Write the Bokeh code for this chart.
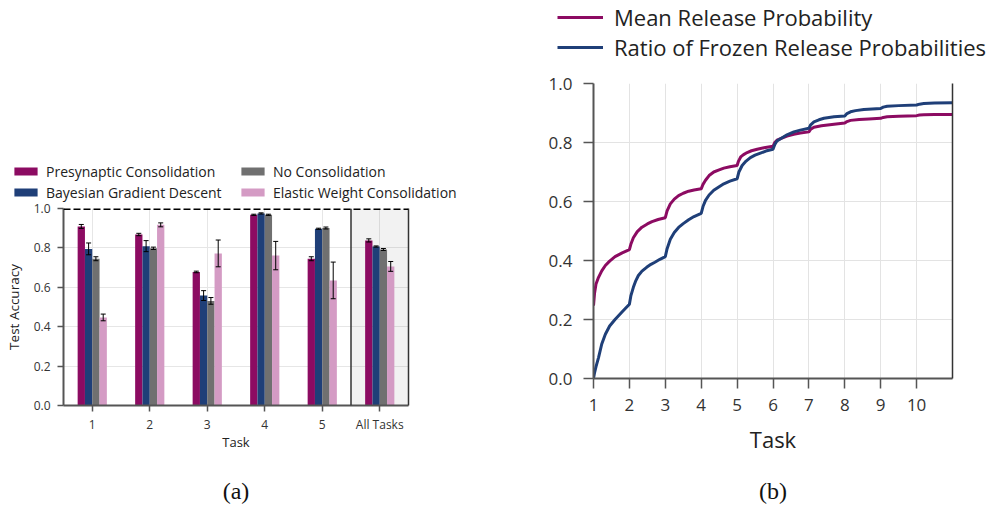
from bokeh.plotting import figure
from bokeh.models import (ColumnDataSource, Whisker, TeeHead, Span, BoxAnnotation,
                          Legend, LegendItem, LinearAxis, FixedTicker,
                          PrintfTickFormatter)
from bokeh.layouts import row, column
from bokeh.embed import file_html
from bokeh.resources import INLINE

FONT = "Open Sans"
SERIF = "Liberation Serif"
NAN = float("nan")

# ---------------- data (a) ----------------
tasks = ["1", "2", "3", "4", "5", "All Tasks"]
series_names = ["Presynaptic Consolidation", "Bayesian Gradient Descent",
                "No Consolidation", "Elastic Weight Consolidation"]
presyn = [0.909, 0.868, 0.678, 0.968, 0.745, 0.838]
presyn_err = [0.010, 0.006, 0.004, 0.003, 0.010, 0.008]
bgd = [0.795, 0.809, 0.558, 0.975, 0.897, 0.807]
bgd_err = [0.030, 0.028, 0.025, 0.003, 0.003, 0.003]
nocons = [0.745, 0.798, 0.531, 0.968, 0.901, 0.792]
nocons_err = [0.010, 0.006, 0.017, 0.003, 0.005, 0.005]
ewc = [0.447, 0.917, 0.772, 0.761, 0.635, 0.706]
ewc_err = [0.017, 0.010, 0.068, 0.072, 0.093, 0.025]
y_ticks_a = [0.0, 0.2, 0.4, 0.6, 0.8, 1.0]

# ---------------- data (b) ----------------
line_names = ["Mean Release Probability", "Ratio of Frozen Release Probabilities"]
mean_x = [1.0, 1.03, 1.07, 1.14, 1.23, 1.33, 1.45, 1.6, 1.8, 2.0,
          2.04, 2.11, 2.22, 2.35, 2.5, 2.63, 2.8, 3.0,
          3.05, 3.14, 3.25, 3.37, 3.5, 3.65, 3.8, 4.0,
          4.05, 4.12, 4.22, 4.35, 4.5, 4.63, 4.8, 5.0,
          5.04, 5.1, 5.18, 5.28, 5.4, 5.56, 5.75, 6.0,
          6.05, 6.11, 6.21, 6.39, 6.58, 6.76, 7.0,
          7.05, 7.14, 7.35, 7.7, 8.0,
          8.06, 8.16, 8.4, 8.67, 9.0,
          9.07, 9.18, 9.5, 10.0,
          10.08, 10.2, 10.5, 11.0]
mean_y = [0.247, 0.29, 0.32, 0.343, 0.365, 0.383, 0.398, 0.413, 0.426, 0.437,
          0.455, 0.477, 0.498, 0.513, 0.524, 0.532, 0.539, 0.545,
          0.568, 0.592, 0.608, 0.620, 0.628, 0.635, 0.639, 0.643,
          0.658, 0.672, 0.688, 0.700, 0.707, 0.713, 0.718, 0.722,
          0.737, 0.751, 0.759, 0.766, 0.772, 0.777, 0.782, 0.787,
          0.800, 0.808, 0.813, 0.822, 0.828, 0.832, 0.836,
          0.845, 0.852, 0.857, 0.862, 0.866,
          0.871, 0.875, 0.878, 0.880, 0.882,
          0.885, 0.887, 0.889, 0.891,
          0.893, 0.894, 0.895, 0.895]
ratio_x = [1.0, 1.03, 1.07, 1.14, 1.23, 1.33, 1.45, 1.6, 1.8, 2.0,
           2.04, 2.11, 2.18, 2.25, 2.35, 2.48, 2.6, 2.71, 2.85, 3.0,
           3.05, 3.14, 3.25, 3.37, 3.5, 3.65, 3.8, 4.0,
           4.05, 4.12, 4.22, 4.35, 4.5, 4.63, 4.8, 5.0,
           5.05, 5.14, 5.25, 5.37, 5.5, 5.65, 5.8, 6.0,
           6.05, 6.11, 6.21, 6.39, 6.58, 6.76, 7.0,
           7.05, 7.14, 7.28, 7.42, 7.7, 8.0,
           8.06, 8.16, 8.3, 8.53, 9.0,
           9.07, 9.18, 9.5, 10.0,
           10.08, 10.2, 10.5, 11.0]
ratio_y = [0.0, 0.02, 0.04, 0.071, 0.117, 0.15, 0.178, 0.200, 0.226, 0.252,
           0.28, 0.309, 0.332, 0.349, 0.364, 0.377, 0.387, 0.394, 0.404, 0.413,
           0.44, 0.472, 0.495, 0.512, 0.525, 0.538, 0.549, 0.560,
           0.583, 0.604, 0.622, 0.638, 0.650, 0.660, 0.669, 0.677,
           0.700, 0.722, 0.737, 0.749, 0.757, 0.764, 0.771, 0.777,
           0.793, 0.805, 0.813, 0.826, 0.836, 0.842, 0.848,
           0.860, 0.870, 0.877, 0.882, 0.887, 0.890,
           0.898, 0.904, 0.908, 0.912, 0.915,
           0.920, 0.923, 0.925, 0.927,
           0.930, 0.932, 0.934, 0.935]
x_ticks_b = [1, 2, 3, 4, 5, 6, 7, 8, 9, 10]
y_ticks_b = [0.0, 0.2, 0.4, 0.6, 0.8, 1.0]

C_MAG = "#8c0b62"
C_BLUE = "#1f3f78"
C_GRAY = "#707070"
C_PINK = "#d49bc4"
AXC = "#555555"
TXT = "#333333"


def style_axis(ax, tick_fs, label_fs, tick_out, standoff, lw=2):
    ax.axis_line_color = AXC
    ax.axis_line_width = lw
    ax.major_tick_line_color = AXC
    ax.major_tick_line_width = 1.5
    ax.major_tick_out = tick_out
    ax.major_tick_in = 0
    ax.minor_tick_line_color = None
    ax.major_label_text_font = FONT
    ax.major_label_text_font_size = tick_fs
    ax.major_label_text_color = TXT
    ax.major_label_standoff = standoff
    ax.axis_label_text_font = FONT
    ax.axis_label_text_font_size = label_fs
    ax.axis_label_text_font_style = "normal"
    ax.axis_label_text_color = "#222222"


def border_axis():
    return LinearAxis(ticker=FixedTicker(ticks=[]), axis_line_color="#333333",
                      axis_line_width=1.5, major_tick_line_color=None,
                      minor_tick_line_color=None, major_label_text_font_size="0px")


def caption_axis(text, standoff):
    return LinearAxis(ticker=FixedTicker(ticks=[]), axis_line_color=None,
                      major_tick_line_color=None, minor_tick_line_color=None,
                      major_label_text_font_size="0px", major_tick_out=0,
                      axis_label=text, axis_label_text_font=SERIF,
                      axis_label_text_font_size="24px",
                      axis_label_text_font_style="normal",
                      axis_label_text_color="#111111",
                      axis_label_standoff=standoff)


def style_legend(leg, fs, gw, gh, lh, standoff):
    leg.label_text_font = FONT
    leg.label_text_font_size = fs
    leg.label_text_color = "#222222"
    leg.glyph_width = gw
    leg.glyph_height = gh
    leg.label_height = lh
    leg.label_standoff = standoff
    leg.padding = 0
    leg.margin = 0
    leg.spacing = 0
    leg.border_line_color = None
    leg.background_fill_alpha = 0


def legend_fig(w, h):
    f = figure(width=w, height=h, x_range=(0, 1), y_range=(0, 1),
               x_axis_location=None, y_axis_location=None,
               output_backend="svg", toolbar_location=None,
               min_border=0)
    f.frame_align = False
    f.outline_line_color = None
    f.grid.visible = False
    return f


# page is laid out from the top-left corner (no body margin)
W1, W2 = 530, 457
LH1, PH1, OV1 = 203, 313, 4      # legend strip, plot, overlap of the two
LH2, PH2 = 70, 442

bw = 0.127
vals = [presyn, bgd, nocons, ewc]
errs = [presyn_err, bgd_err, nocons_err, ewc_err]
cols = [C_MAG, C_BLUE, C_GRAY, C_PINK]

# ---------------- legend (a) ----------------
lf1 = legend_fig(W1, LH1)
dummy = [lf1.vbar(x=[NAN], top=[NAN], width=0.1, fill_color=c, line_color=None)
         for c in cols]
leg1 = Legend(items=[LegendItem(label=series_names[0], renderers=[dummy[0]]),
                     LegendItem(label=series_names[2], renderers=[dummy[2]]),
                     LegendItem(label=series_names[1], renderers=[dummy[1]]),
                     LegendItem(label=series_names[3], renderers=[dummy[3]])],
              orientation="horizontal", ncols=2, location=(11, 0.5))
style_legend(leg1, "14px", 29, 10, 21, 6)
leg1.label_width = 192
lf1.add_layout(leg1)

# ---------------- figure (a) ----------------
p1 = figure(width=W1, height=PH1, x_range=(0.5, 6.5), y_range=(0, 1.0),
            output_backend="svg", toolbar_location=None,
            min_border_left=63, min_border_right=122,
            min_border_top=9, min_border_bottom=107)
p1.margin = (-OV1, 0, 0, 0)
p1.frame_align = False
p1.outline_line_color = None
p1.background_fill_alpha = 0
p1.border_fill_alpha = 0

p1.xaxis.ticker = FixedTicker(ticks=[i + 1 for i in range(len(tasks))])
p1.xaxis.major_label_overrides = {i + 1: t for i, t in enumerate(tasks)}
p1.yaxis.ticker = FixedTicker(ticks=y_ticks_a)
p1.yaxis.formatter = PrintfTickFormatter(format="%.1f")
p1.xaxis.axis_label = "Task"
p1.yaxis.axis_label = "Test Accuracy"
style_axis(p1.xaxis[0], "12px", "13px", 6, 4)
style_axis(p1.yaxis[0], "12px", "13.5px", 6, 7)
p1.yaxis.axis_label_standoff = 8
p1.xaxis.axis_label_standoff = -3
p1.add_layout(border_axis(), "right")
p1.add_layout(caption_axis("(a)", 24), "below")

p1.xgrid.ticker = FixedTicker(ticks=[i + 1 for i in range(len(tasks))])
p1.grid.grid_line_color = "#e6e6e6"
p1.grid.grid_line_width = 1

p1.add_layout(BoxAnnotation(left=len(tasks) - 0.5, right=len(tasks) + 0.5,
                            fill_color="black", fill_alpha=0.05,
                            line_color=None, level="underlay"))
p1.add_layout(Span(location=len(tasks) - 0.5, dimension="height",
                   line_color="#333333", line_width=1.5))

for i in range(4):
    xs = [k + 1 + (i - 1.5) * bw for k in range(len(tasks))]
    src = ColumnDataSource(dict(
        x=xs, top=vals[i],
        up=[v + e for v, e in zip(vals[i], errs[i])],
        lo=[v - e for v, e in zip(vals[i], errs[i])]))
    p1.vbar(x="x", top="top", width=bw, source=src,
            fill_color=cols[i], line_color=None)
    p1.add_layout(Whisker(source=src, base="x", upper="up", lower="lo",
                          line_color="black", line_width=1, level="annotation",
                          upper_head=TeeHead(size=5, line_color="black", line_width=1),
                          lower_head=TeeHead(size=5, line_color="black", line_width=1)))

p1.add_layout(Span(location=1.0, dimension="width", line_color="black",
                   line_width=3, line_dash="7 3"))

# ---------------- legend (b) ----------------
lf2 = legend_fig(W2, LH2)
d_mean = lf2.line(x=[NAN], y=[NAN], line_color=C_MAG, line_width=3)
d_ratio = lf2.line(x=[NAN], y=[NAN], line_color=C_BLUE, line_width=3)
leg2 = Legend(items=[LegendItem(label=line_names[0], renderers=[d_mean]),
                     LegendItem(label=line_names[1], renderers=[d_ratio])],
              location=(27, 8))
style_legend(leg2, "22px", 46, 30, 30, 11)
lf2.add_layout(leg2)

# ---------------- figure (b) ----------------
p2 = figure(width=W2, height=PH2, x_range=(1, 11), y_range=(0, 1.0),
            output_backend="svg", toolbar_location=None,
            min_border_left=63, min_border_right=35,
            min_border_top=13, min_border_bottom=134)
p2.frame_align = False
p2.outline_line_color = None
p2.xaxis.ticker = FixedTicker(ticks=x_ticks_b)
p2.yaxis.ticker = FixedTicker(ticks=y_ticks_b)
p2.yaxis.formatter = PrintfTickFormatter(format="%.1f")
p2.xaxis.axis_label = "Task"
style_axis(p2.xaxis[0], "17px", "22px", 10, 10)
style_axis(p2.yaxis[0], "17px", "22px", 10, 11)
p2.xaxis.axis_label_standoff = 10
p2.add_layout(border_axis(), "right")
p2.add_layout(caption_axis("(b)", 21), "below")
p2.grid.grid_line_color = "#e3e3e3"
p2.grid.grid_line_width = 1

p2.line(mean_x, mean_y, line_color=C_MAG, line_width=3)
p2.line(ratio_x, ratio_y, line_color=C_BLUE, line_width=3)

layout = row(column(lf1, p1), column(lf2, p2))
open("out.html", "w").write(file_html(layout, INLINE))
